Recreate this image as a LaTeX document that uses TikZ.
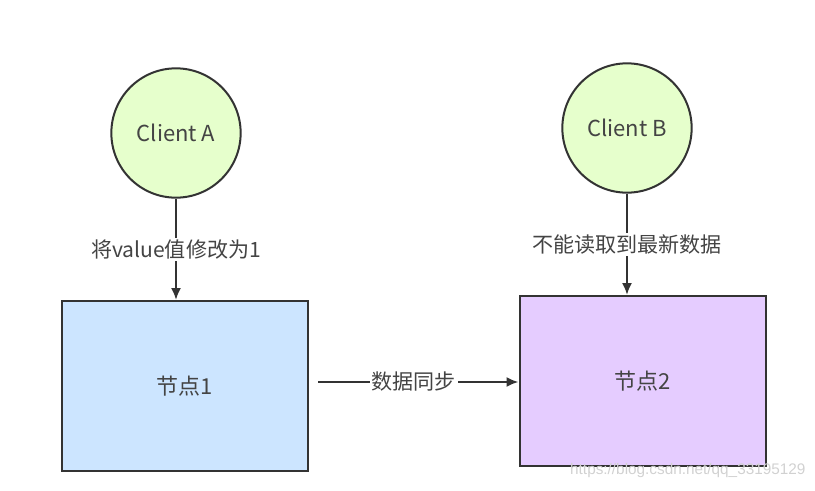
\documentclass[tikz,border=0pt]{standalone}
\usepackage{fontspec}
\setmainfont{Noto Sans CJK SC}
\newfontfamily\wmfont{Liberation Sans}
\usetikzlibrary{arrows.meta}

\definecolor{clientfill}{HTML}{E6FFCC}
\definecolor{nodeonefill}{HTML}{CCE5FF}
\definecolor{nodetwofill}{HTML}{E5CCFF}
\definecolor{strokegray}{HTML}{333333}
\definecolor{textgray}{HTML}{444444}

\tikzset{every picture/.style={line width=0.75pt}}
\tikzset{
  client/.style={circle, draw=strokegray, line width=1.5pt, fill=clientfill,
    minimum size=97pt, inner sep=0pt, text=textgray, font=\fontsize{16.5}{18}\selectfont},
  server/.style={rectangle, draw=strokegray, line width=1.5pt,
    minimum width=184.5pt, minimum height=127.5pt, text=textgray, font=\fontsize{16.5}{18}\selectfont},
  conn/.style={draw=strokegray, line width=1.5pt, -{Latex[length=9pt,width=7.5pt]}},
  lbl/.style={fill=white, inner sep=1.5pt, text=textgray, font=\fontsize{15.8}{18}\selectfont},
}

\begin{document}
\begin{tikzpicture}[x=0.75pt,y=0.75pt,yscale=-1,xscale=1]
\useasboundingbox (0,0) rectangle (815,490);

%Shape: Circle
\node [client] (clientA) at (176,133) {Client A};
%Shape: Circle
\node [client] (clientB) at (627,128) {Client B};
%Shape: Rectangle
\node [server, fill=nodeonefill] (node1) at (185,386) {\raisebox{-3pt}{节点1}};
%Shape: Rectangle
\node [server, fill=nodetwofill] (node2) at (642.5,381) {\raisebox{-3pt}{节点2}};

%Straight Lines
\draw [conn] (clientA.south) -- node [lbl] (setLbl) {将value值修改为1} (clientA.south |- node1.north);
%Straight Lines
\draw [conn] (clientB.south) -- node [lbl] (readLbl) {不能读取到最新数据} (clientB.south |- node2.north);
%Straight Lines
\draw [conn, shorten <=7pt] (node1.east |- 0,382) -- node [lbl] (syncLbl) {数据同步} (node2.west |- 0,382);

% Text Node
\node [text=black!18, font=\wmfont\fontsize{11.5}{13}\selectfont, anchor=east, inner sep=0pt] (watermark) at (806,471) {https://blog.csdn.net/qq\_33195129};

\end{tikzpicture}
\end{document}
